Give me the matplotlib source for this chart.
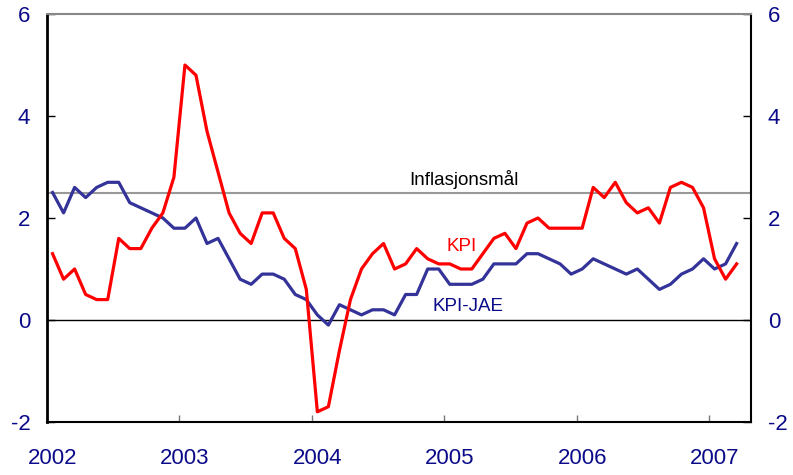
import numpy as np
import matplotlib.pyplot as plt

plt.rcParams['font.family'] = ['Liberation Sans', 'DejaVu Sans']
plt.rcParams['axes.unicode_minus'] = False

# Monthly 12-month change, Jan 2002 - Mar 2007
kpi = [1.3, 0.8, 1.0, 0.5, 0.4, 0.4, 1.6, 1.4, 1.4, 1.8, 2.1, 2.8,
       5.0, 4.8, 3.7, 2.9, 2.1, 1.7, 1.5, 2.1, 2.1, 1.6, 1.4, 0.6,
       -1.8, -1.7, -0.6, 0.4, 1.0, 1.3, 1.5, 1.0, 1.1, 1.4, 1.2, 1.1,
       1.1, 1.0, 1.0, 1.3, 1.6, 1.7, 1.4, 1.9, 2.0, 1.8, 1.8, 1.8,
       1.8, 2.6, 2.4, 2.7, 2.3, 2.1, 2.2, 1.9, 2.6, 2.7, 2.6, 2.2,
       1.2, 0.8, 1.1]
kpi_jae = [2.5, 2.1, 2.6, 2.4, 2.6, 2.7, 2.7, 2.3, 2.2, 2.1, 2.0, 1.8,
           1.8, 2.0, 1.5, 1.6, 1.2, 0.8, 0.7, 0.9, 0.9, 0.8, 0.5, 0.4,
           0.1, -0.1, 0.3, 0.2, 0.1, 0.2, 0.2, 0.1, 0.5, 0.5, 1.0, 1.0,
           0.7, 0.7, 0.7, 0.8, 1.1, 1.1, 1.1, 1.3, 1.3, 1.2, 1.1, 0.9,
           1.0, 1.2, 1.1, 1.0, 0.9, 1.0, 0.8, 0.6, 0.7, 0.9, 1.0, 1.2,
           1.0, 1.1, 1.5]
years = ['2002', '2003', '2004', '2005', '2006', '2007']
target = 2.5

navy = '#0b0b8a'
x = np.arange(len(kpi))

fig = plt.figure(figsize=(7.93, 4.75), dpi=100)
ax = fig.add_axes([0.0593, 0.1116, 0.8877, 0.8589])

ax.axhline(target, color='#999999', lw=1.5, zorder=1)
ax.axhline(0, color='black', lw=1.0, zorder=1)
ax.plot(x, kpi, color='#ff0000', lw=2.3, zorder=3)
ax.plot(x, kpi_jae, color='#333399', lw=2.3, zorder=2)

ax.set_xlim(-0.5, 63.3)
ax.set_ylim(-2, 6)

# year labels at January, tick marks at year boundaries
ax.set_xticks(np.arange(len(years)) * 12)
ax.set_xticklabels(years)
ax.set_xticks(np.arange(1, len(years)) * 12 - 0.5, minor=True)
ax.tick_params(axis='x', which='major', length=0, pad=19, labelsize=16, labelcolor=navy)
ax.tick_params(axis='x', which='minor', direction='in', length=5, color='#777777', width=1)

# same scale on both sides
ax.set_yticks([-2, 0, 2, 4, 6])
ax.tick_params(axis='y', direction='in', length=5.5, width=1, labelsize=16, pad=12,
               labelcolor=navy, right=True, labelright=True)

ax.spines['top'].set_color('#888888')
ax.spines['top'].set_linewidth(1.5)
ax.spines['left'].set_linewidth(2)
ax.spines['bottom'].set_linewidth(1.5)
ax.spines['right'].set_linewidth(1.5)

ax.text(32.3, 2.65, 'Inflasjonsmål', fontsize=13.5, color='black')
ax.text(35.7, 1.35, 'KPI', fontsize=13.5, color='#ff0000')
ax.text(34.4, 0.18, 'KPI-JAE', fontsize=13.5, color=navy)

fig.savefig('out.png', dpi=100)
